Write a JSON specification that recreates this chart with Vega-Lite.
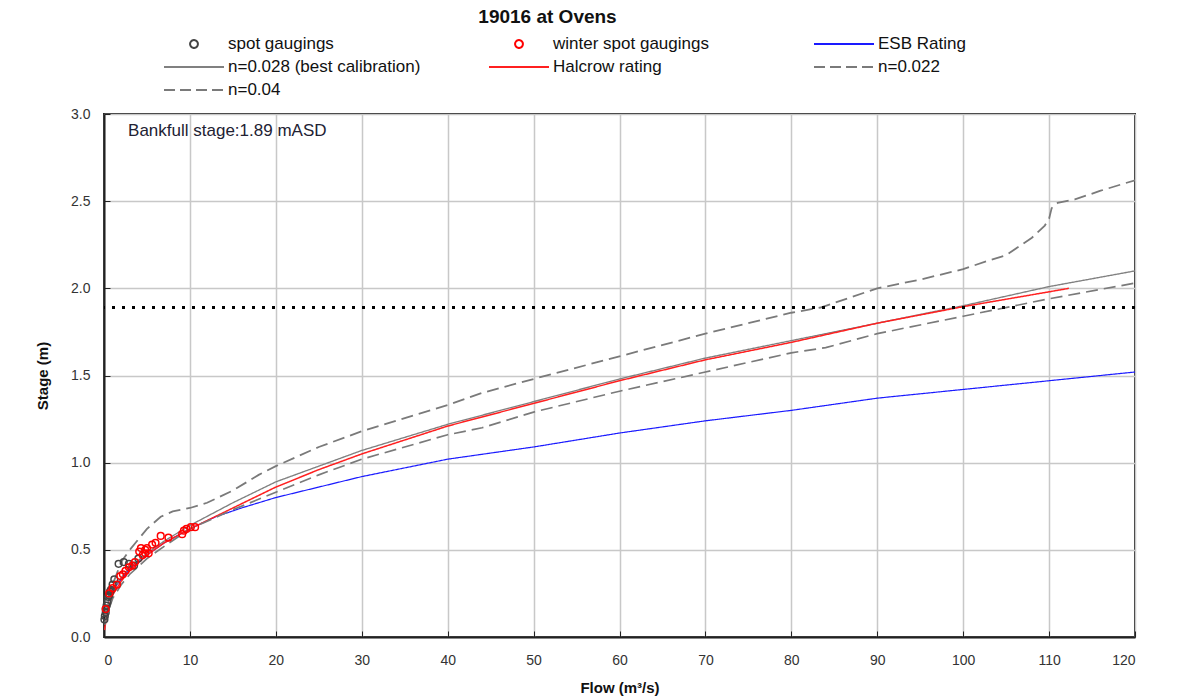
{
  "$schema": "https://vega.github.io/schema/vega-lite/v6.json",
  "width": 1031,
  "height": 523,
  "autosize": "none",
  "padding": {"left": 104, "top": 114, "right": 48, "bottom": 63},
  "background": "white",
  "title": {"text": "19016 at Ovens", "fontSize": 19, "fontWeight": "bold", "font": "Liberation Sans", "color": "#111", "anchor": "middle", "dx": -72, "offset": 9},
  "config": {
    "font": "Liberation Sans",
    "view": {"stroke": "#222", "strokeWidth": 2},
    "axis": {"gridColor": "#c8c8c8", "gridWidth": 1.5, "domainColor": "#222", "domainWidth": 2, "tickColor": "#222", "labelFontSize": 14, "labelColor": "#333", "titleFontSize": 15, "titleFontWeight": "bold", "titleColor": "#111"}
  },
  "datasets": {
    "curves": [
      {"series": "ESB Rating", "Q": 0.5, "S": 0.2}, {"series": "ESB Rating", "Q": 1, "S": 0.27}, {"series": "ESB Rating", "Q": 2, "S": 0.33}, {"series": "ESB Rating", "Q": 3, "S": 0.39}, {"series": "ESB Rating", "Q": 5, "S": 0.47}, {"series": "ESB Rating", "Q": 7, "S": 0.54}, {"series": "ESB Rating", "Q": 10, "S": 0.62}, {"series": "ESB Rating", "Q": 13, "S": 0.69}, {"series": "ESB Rating", "Q": 16, "S": 0.74}, {"series": "ESB Rating", "Q": 20, "S": 0.8}, {"series": "ESB Rating", "Q": 25, "S": 0.86}, {"series": "ESB Rating", "Q": 30, "S": 0.92}, {"series": "ESB Rating", "Q": 40, "S": 1.02}, {"series": "ESB Rating", "Q": 50, "S": 1.09}, {"series": "ESB Rating", "Q": 60, "S": 1.17}, {"series": "ESB Rating", "Q": 70, "S": 1.24}, {"series": "ESB Rating", "Q": 80, "S": 1.3}, {"series": "ESB Rating", "Q": 90, "S": 1.37}, {"series": "ESB Rating", "Q": 100, "S": 1.42}, {"series": "ESB Rating", "Q": 110, "S": 1.47}, {"series": "ESB Rating", "Q": 120, "S": 1.52},
      {"series": "n=0.028 (best calibration)", "Q": 0.1, "S": 0.08}, {"series": "n=0.028 (best calibration)", "Q": 0.5, "S": 0.2}, {"series": "n=0.028 (best calibration)", "Q": 1, "S": 0.27}, {"series": "n=0.028 (best calibration)", "Q": 2, "S": 0.34}, {"series": "n=0.028 (best calibration)", "Q": 3, "S": 0.4}, {"series": "n=0.028 (best calibration)", "Q": 5, "S": 0.48}, {"series": "n=0.028 (best calibration)", "Q": 7, "S": 0.55}, {"series": "n=0.028 (best calibration)", "Q": 10, "S": 0.64}, {"series": "n=0.028 (best calibration)", "Q": 15, "S": 0.77}, {"series": "n=0.028 (best calibration)", "Q": 20, "S": 0.89}, {"series": "n=0.028 (best calibration)", "Q": 25, "S": 0.98}, {"series": "n=0.028 (best calibration)", "Q": 30, "S": 1.07}, {"series": "n=0.028 (best calibration)", "Q": 40, "S": 1.22}, {"series": "n=0.028 (best calibration)", "Q": 50, "S": 1.35}, {"series": "n=0.028 (best calibration)", "Q": 60, "S": 1.48}, {"series": "n=0.028 (best calibration)", "Q": 70, "S": 1.6}, {"series": "n=0.028 (best calibration)", "Q": 80, "S": 1.7}, {"series": "n=0.028 (best calibration)", "Q": 90, "S": 1.8}, {"series": "n=0.028 (best calibration)", "Q": 100, "S": 1.9}, {"series": "n=0.028 (best calibration)", "Q": 110, "S": 2.01}, {"series": "n=0.028 (best calibration)", "Q": 120, "S": 2.1},
      {"series": "Halcrow rating", "Q": 0.05, "S": 0.04}, {"series": "Halcrow rating", "Q": 0.5, "S": 0.17}, {"series": "Halcrow rating", "Q": 1, "S": 0.24}, {"series": "Halcrow rating", "Q": 2, "S": 0.32}, {"series": "Halcrow rating", "Q": 3, "S": 0.38}, {"series": "Halcrow rating", "Q": 5, "S": 0.47}, {"series": "Halcrow rating", "Q": 7, "S": 0.54}, {"series": "Halcrow rating", "Q": 10, "S": 0.62}, {"series": "Halcrow rating", "Q": 15, "S": 0.74}, {"series": "Halcrow rating", "Q": 20, "S": 0.86}, {"series": "Halcrow rating", "Q": 25, "S": 0.96}, {"series": "Halcrow rating", "Q": 30, "S": 1.05}, {"series": "Halcrow rating", "Q": 40, "S": 1.21}, {"series": "Halcrow rating", "Q": 50, "S": 1.34}, {"series": "Halcrow rating", "Q": 60, "S": 1.47}, {"series": "Halcrow rating", "Q": 70, "S": 1.59}, {"series": "Halcrow rating", "Q": 80, "S": 1.69}, {"series": "Halcrow rating", "Q": 90, "S": 1.8}, {"series": "Halcrow rating", "Q": 100, "S": 1.895}, {"series": "Halcrow rating", "Q": 110, "S": 1.98}, {"series": "Halcrow rating", "Q": 112.3, "S": 2.0},
      {"series": "n=0.022", "Q": 0.1, "S": 0.07}, {"series": "n=0.022", "Q": 0.5, "S": 0.15}, {"series": "n=0.022", "Q": 1, "S": 0.22}, {"series": "n=0.022", "Q": 2, "S": 0.3}, {"series": "n=0.022", "Q": 3, "S": 0.36}, {"series": "n=0.022", "Q": 5, "S": 0.45}, {"series": "n=0.022", "Q": 7, "S": 0.52}, {"series": "n=0.022", "Q": 10, "S": 0.62}, {"series": "n=0.022", "Q": 15, "S": 0.73}, {"series": "n=0.022", "Q": 20, "S": 0.83}, {"series": "n=0.022", "Q": 25, "S": 0.93}, {"series": "n=0.022", "Q": 30, "S": 1.02}, {"series": "n=0.022", "Q": 40, "S": 1.16}, {"series": "n=0.022", "Q": 44, "S": 1.2}, {"series": "n=0.022", "Q": 50, "S": 1.29}, {"series": "n=0.022", "Q": 60, "S": 1.41}, {"series": "n=0.022", "Q": 70, "S": 1.52}, {"series": "n=0.022", "Q": 80, "S": 1.63}, {"series": "n=0.022", "Q": 84, "S": 1.66}, {"series": "n=0.022", "Q": 90, "S": 1.74}, {"series": "n=0.022", "Q": 100, "S": 1.84}, {"series": "n=0.022", "Q": 110, "S": 1.94}, {"series": "n=0.022", "Q": 120, "S": 2.03},
      {"series": "n=0.04", "Q": 0.1, "S": 0.12}, {"series": "n=0.04", "Q": 0.3, "S": 0.2}, {"series": "n=0.04", "Q": 1, "S": 0.3}, {"series": "n=0.04", "Q": 2, "S": 0.43}, {"series": "n=0.04", "Q": 3, "S": 0.5}, {"series": "n=0.04", "Q": 5, "S": 0.62}, {"series": "n=0.04", "Q": 6.6, "S": 0.69}, {"series": "n=0.04", "Q": 8, "S": 0.72}, {"series": "n=0.04", "Q": 10, "S": 0.74}, {"series": "n=0.04", "Q": 12, "S": 0.77}, {"series": "n=0.04", "Q": 15, "S": 0.84}, {"series": "n=0.04", "Q": 18, "S": 0.93}, {"series": "n=0.04", "Q": 20, "S": 0.98}, {"series": "n=0.04", "Q": 25, "S": 1.09}, {"series": "n=0.04", "Q": 30, "S": 1.18}, {"series": "n=0.04", "Q": 40, "S": 1.33}, {"series": "n=0.04", "Q": 44, "S": 1.4}, {"series": "n=0.04", "Q": 50, "S": 1.48}, {"series": "n=0.04", "Q": 60, "S": 1.61}, {"series": "n=0.04", "Q": 70, "S": 1.74}, {"series": "n=0.04", "Q": 80, "S": 1.86}, {"series": "n=0.04", "Q": 83.4, "S": 1.89}, {"series": "n=0.04", "Q": 90, "S": 2.0}, {"series": "n=0.04", "Q": 95, "S": 2.05}, {"series": "n=0.04", "Q": 100, "S": 2.11}, {"series": "n=0.04", "Q": 103, "S": 2.16}, {"series": "n=0.04", "Q": 105, "S": 2.19}, {"series": "n=0.04", "Q": 106.5, "S": 2.24}, {"series": "n=0.04", "Q": 108, "S": 2.29}, {"series": "n=0.04", "Q": 109.5, "S": 2.36}, {"series": "n=0.04", "Q": 110, "S": 2.4}, {"series": "n=0.04", "Q": 110.3, "S": 2.46}, {"series": "n=0.04", "Q": 111, "S": 2.49}, {"series": "n=0.04", "Q": 113, "S": 2.51}, {"series": "n=0.04", "Q": 116, "S": 2.56}, {"series": "n=0.04", "Q": 120, "S": 2.62}
    ],
    "gaugings": [
      {"series": "spot gaugings", "Q": 0.05, "S": 0.1}, {"series": "spot gaugings", "Q": 0.1, "S": 0.12}, {"series": "spot gaugings", "Q": 0.2, "S": 0.14}, {"series": "spot gaugings", "Q": 0.3, "S": 0.18}, {"series": "spot gaugings", "Q": 0.4, "S": 0.2}, {"series": "spot gaugings", "Q": 0.5, "S": 0.23}, {"series": "spot gaugings", "Q": 0.6, "S": 0.24}, {"series": "spot gaugings", "Q": 0.7, "S": 0.26}, {"series": "spot gaugings", "Q": 0.8, "S": 0.27}, {"series": "spot gaugings", "Q": 1.0, "S": 0.3}, {"series": "spot gaugings", "Q": 1.2, "S": 0.33}, {"series": "spot gaugings", "Q": 1.7, "S": 0.42}, {"series": "spot gaugings", "Q": 2.3, "S": 0.43}, {"series": "spot gaugings", "Q": 2.9, "S": 0.42}, {"series": "spot gaugings", "Q": 3.5, "S": 0.41}, {"series": "spot gaugings", "Q": 4.0, "S": 0.45}, {"series": "spot gaugings", "Q": 0.2, "S": 0.16},
      {"series": "winter spot gaugings", "Q": 0.2, "S": 0.16}, {"series": "winter spot gaugings", "Q": 0.6, "S": 0.25}, {"series": "winter spot gaugings", "Q": 1.0, "S": 0.28}, {"series": "winter spot gaugings", "Q": 1.5, "S": 0.3}, {"series": "winter spot gaugings", "Q": 1.9, "S": 0.35}, {"series": "winter spot gaugings", "Q": 2.2, "S": 0.36}, {"series": "winter spot gaugings", "Q": 2.5, "S": 0.38}, {"series": "winter spot gaugings", "Q": 2.9, "S": 0.4}, {"series": "winter spot gaugings", "Q": 3.3, "S": 0.41}, {"series": "winter spot gaugings", "Q": 3.6, "S": 0.43}, {"series": "winter spot gaugings", "Q": 4.1, "S": 0.49}, {"series": "winter spot gaugings", "Q": 4.3, "S": 0.51}, {"series": "winter spot gaugings", "Q": 4.5, "S": 0.47}, {"series": "winter spot gaugings", "Q": 4.8, "S": 0.5}, {"series": "winter spot gaugings", "Q": 4.8, "S": 0.48}, {"series": "winter spot gaugings", "Q": 5.0, "S": 0.51}, {"series": "winter spot gaugings", "Q": 5.2, "S": 0.48}, {"series": "winter spot gaugings", "Q": 5.6, "S": 0.53}, {"series": "winter spot gaugings", "Q": 6.0, "S": 0.54}, {"series": "winter spot gaugings", "Q": 6.6, "S": 0.58}, {"series": "winter spot gaugings", "Q": 7.5, "S": 0.57}, {"series": "winter spot gaugings", "Q": 9.1, "S": 0.59}, {"series": "winter spot gaugings", "Q": 9.3, "S": 0.61}, {"series": "winter spot gaugings", "Q": 9.6, "S": 0.62}, {"series": "winter spot gaugings", "Q": 10.1, "S": 0.63}, {"series": "winter spot gaugings", "Q": 10.6, "S": 0.63}
    ],
    "bankfull": [{"S": 1.89, "Q": 2.8, "label": "Bankfull stage:1.89 mASD", "labelS": 2.9}]
  },
  "layer": [
    {
      "data": {"name": "curves"},
      "mark": {"type": "line", "clip": true},
      "encoding": {
        "x": {"field": "Q", "type": "quantitative", "scale": {"domain": [0, 120], "nice": false}, "axis": {"title": "Flow (m³/s)", "values": [0, 10, 20, 30, 40, 50, 60, 70, 80, 90, 100, 110, 120], "tickSize": -6, "labelPadding": 22, "titlePadding": 13}},
        "y": {"field": "S", "type": "quantitative", "scale": {"domain": [0, 3], "nice": false}, "axis": {"title": "Stage (m)", "values": [0, 0.5, 1, 1.5, 2, 2.5, 3], "format": ".1f", "tickSize": -6, "labelPadding": 20, "titlePadding": 20}},
        "color": {
          "field": "series", "type": "nominal",
          "scale": {"domain": ["spot gaugings", "winter spot gaugings", "ESB Rating", "n=0.028 (best calibration)", "Halcrow rating", "n=0.022", "n=0.04"], "range": ["#444444", "#ff0000", "#1a1aff", "#808080", "#ff2020", "#7a7a7a", "#7a7a7a"]},
          "legend": {
            "title": null, "orient": "none", "legendX": 59, "legendY": -78, "direction": "horizontal", "columns": 3, "gridAlign": "all",
            "columnPadding": 67, "rowPadding": 6, "clipHeight": 16, "symbolSize": 3600, "symbolType": "stroke", "symbolStrokeWidth": 2, "labelOffset": 3,
            "labelFontSize": 17, "labelColor": "#111", "labelFont": "Liberation Sans", "labelLimit": 400,
            "encode": {"symbols": {"update": {
              "shape": {"signal": "datum.value == 'spot gaugings' || datum.value == 'winter spot gaugings' ? 'M -0.13 0 A 0.13 0.13 0 1 0 0.13 0 A 0.13 0.13 0 1 0 -0.13 0 Z' : 'stroke'"},
              "strokeDash": {"signal": "datum.value == 'n=0.022' || datum.value == 'n=0.04' ? [11, 5] : [1, 0]"},
              "fill": {"value": "transparent"}
            }}}
          }
        },
        "strokeDash": {"field": "series", "type": "nominal", "scale": {"domain": ["ESB Rating", "n=0.028 (best calibration)", "Halcrow rating", "n=0.022", "n=0.04"], "range": [[1, 0], [1, 0], [1, 0], [12, 6], [12, 6]]}, "legend": null},
        "strokeWidth": {"field": "series", "type": "nominal", "scale": {"domain": ["ESB Rating", "n=0.028 (best calibration)", "Halcrow rating", "n=0.022", "n=0.04"], "range": [1.2, 1.8, 1.2, 2, 2]}, "legend": null}
      }
    },
    {
      "data": {"name": "bankfull"},
      "mark": {"type": "rule", "color": "black", "strokeWidth": 3, "strokeDash": [3, 7]},
      "encoding": {"y": {"field": "S", "type": "quantitative"}}
    },
    {
      "data": {"name": "bankfull"},
      "mark": {"type": "text", "align": "left", "baseline": "middle", "fontSize": 17, "color": "#223"},
      "encoding": {"x": {"field": "Q", "type": "quantitative"}, "y": {"field": "labelS", "type": "quantitative"}, "text": {"field": "label"}}
    },
    {
      "data": {"name": "gaugings"},
      "mark": {"type": "point", "filled": false, "strokeWidth": 1.5, "size": 45, "opacity": 1},
      "encoding": {
        "x": {"field": "Q", "type": "quantitative"},
        "y": {"field": "S", "type": "quantitative"},
        "color": {"field": "series", "type": "nominal"}
      }
    }
  ]
}
